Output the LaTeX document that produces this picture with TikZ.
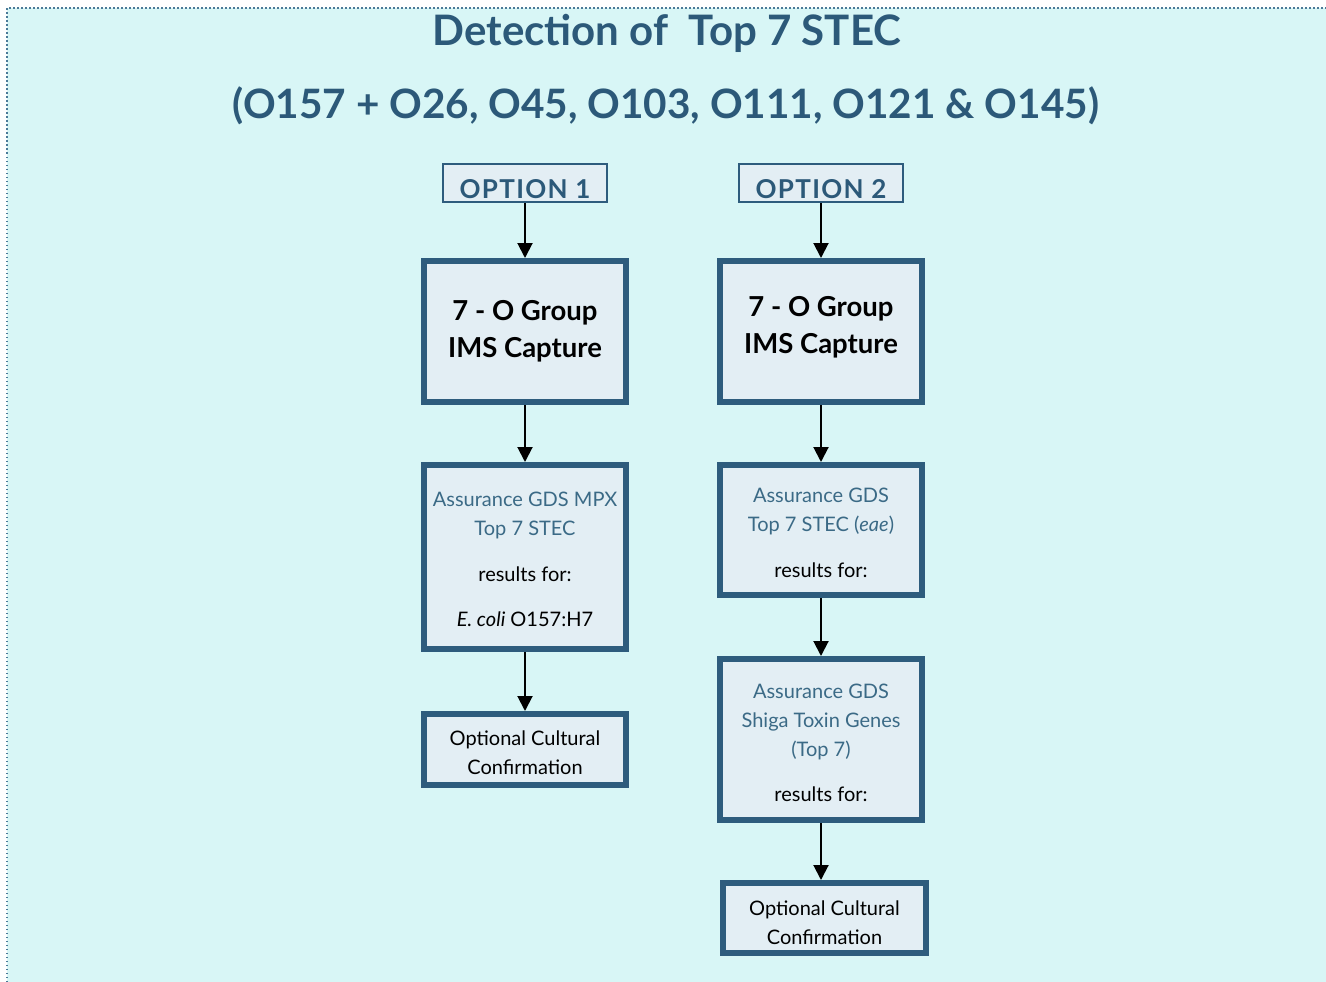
\documentclass[tikz,border=0pt]{standalone}
\usepackage{fontspec}
\setmainfont{Lato}
\usetikzlibrary{arrows.meta}
\definecolor{bgc}{HTML}{D8F6F6}
\definecolor{boxc}{HTML}{2E5C7D}
\definecolor{boxfill}{HTML}{E3EEF4}
\definecolor{titlec}{HTML}{2C5979}
\definecolor{bluetxt}{HTML}{3B6A86}
\definecolor{dotc}{HTML}{4A7A98}
\tikzset{
  bigbox/.style={draw=boxc, line width=6pt, fill=boxfill, minimum width=202pt, inner sep=0pt, align=center, text=black, font=\fontsize{20}{29}\selectfont},
  headbox/.style={bigbox, minimum height=141pt, font=\fontsize{27.5}{37}\selectfont\bfseries},
  optbox/.style={draw=boxc, line width=1.8pt, fill=boxfill, minimum width=164pt, minimum height=38pt, inner sep=0pt, text=titlec, font=\fontsize{26}{30}\selectfont\bfseries\addfontfeature{LetterSpace=5}},
  arr/.style={line width=2pt, -{Triangle[length=15pt,width=15pt]}},
  titletxt/.style={text=titlec, font=\fontsize{42}{48}\selectfont\bfseries, inner sep=0pt, anchor=base}
}
\newcommand{\bt}[1]{\textcolor{bluetxt}{#1}}
\newcommand{\dn}[2]{\raisebox{-#1}[\height][\depth]{\begin{tabular}{@{}c@{}}#2\end{tabular}}}
\begin{document}
\begin{tikzpicture}[x=1pt,y=-1pt]
\useasboundingbox (0,0) rectangle (1326,982);
\fill[bgc] (7,8) rectangle (1326,982);
\draw[dotc, line width=1.5pt, dash pattern=on 1.5pt off 2.5pt] (7,982) -- (7,8) -- (1326,8);
\node[titletxt] (t1) at (667,46) {Detection of~~Top 7 STEC};
\node[titletxt, font=\fontsize{40.5}{48}\selectfont\bfseries] (t2) at (666,118) {(O157 + O26, O45, O103, O111, O121 \& O145)};
\node[optbox] (o1) at (525,183) {\raisebox{-6pt}[\height][\depth]{OPTION 1}};
\node[optbox] (o2) at (821,183) {\raisebox{-6pt}[\height][\depth]{OPTION 2}};
\node[headbox] (a1) at (525,331.5) {\dn{0pt}{7 - O Group\\IMS Capture}};
\node[headbox] (a2) at (821,331.5) {\dn{-4pt}{7 - O Group\\IMS Capture}};
\node[bigbox, minimum height=184pt] (b1) at (525,557) {\dn{4pt}{\bt{Assurance GDS MPX}\\\bt{Top 7 STEC}\\[17pt]results for:\\[16pt]\textit{E. coli} O157:H7}};
\node[bigbox, minimum height=130pt] (b2) at (821,530) {\dn{4pt}{\bt{Assurance GDS}\\\bt{Top 7 STEC (\textit{eae})}\\[17pt]results for:}};
\node[bigbox, minimum height=71pt] (c1) at (525,749.5) {\dn{5pt}{Optional Cultural\\Confirmation}};
\node[bigbox, minimum height=161pt] (c2) at (821,739.5) {\dn{5pt}{\bt{Assurance GDS}\\\bt{Shiga Toxin Genes}\\\bt{(Top 7)}\\[16pt]results for:}};
\node[bigbox, minimum width=203pt, minimum height=70pt] (d2) at (824.5,918) {\dn{6pt}{Optional Cultural\\Confirmation}};
\draw[arr] (o1) -- (a1);
\draw[arr] (a1) -- (b1);
\draw[arr] (b1) -- (c1);
\draw[arr] (o2) -- (a2);
\draw[arr] (a2) -- (b2);
\draw[arr] (b2) -- (c2);
\draw[arr] (c2.south) -- (c2.south |- d2.north);
\end{tikzpicture}
\end{document}
